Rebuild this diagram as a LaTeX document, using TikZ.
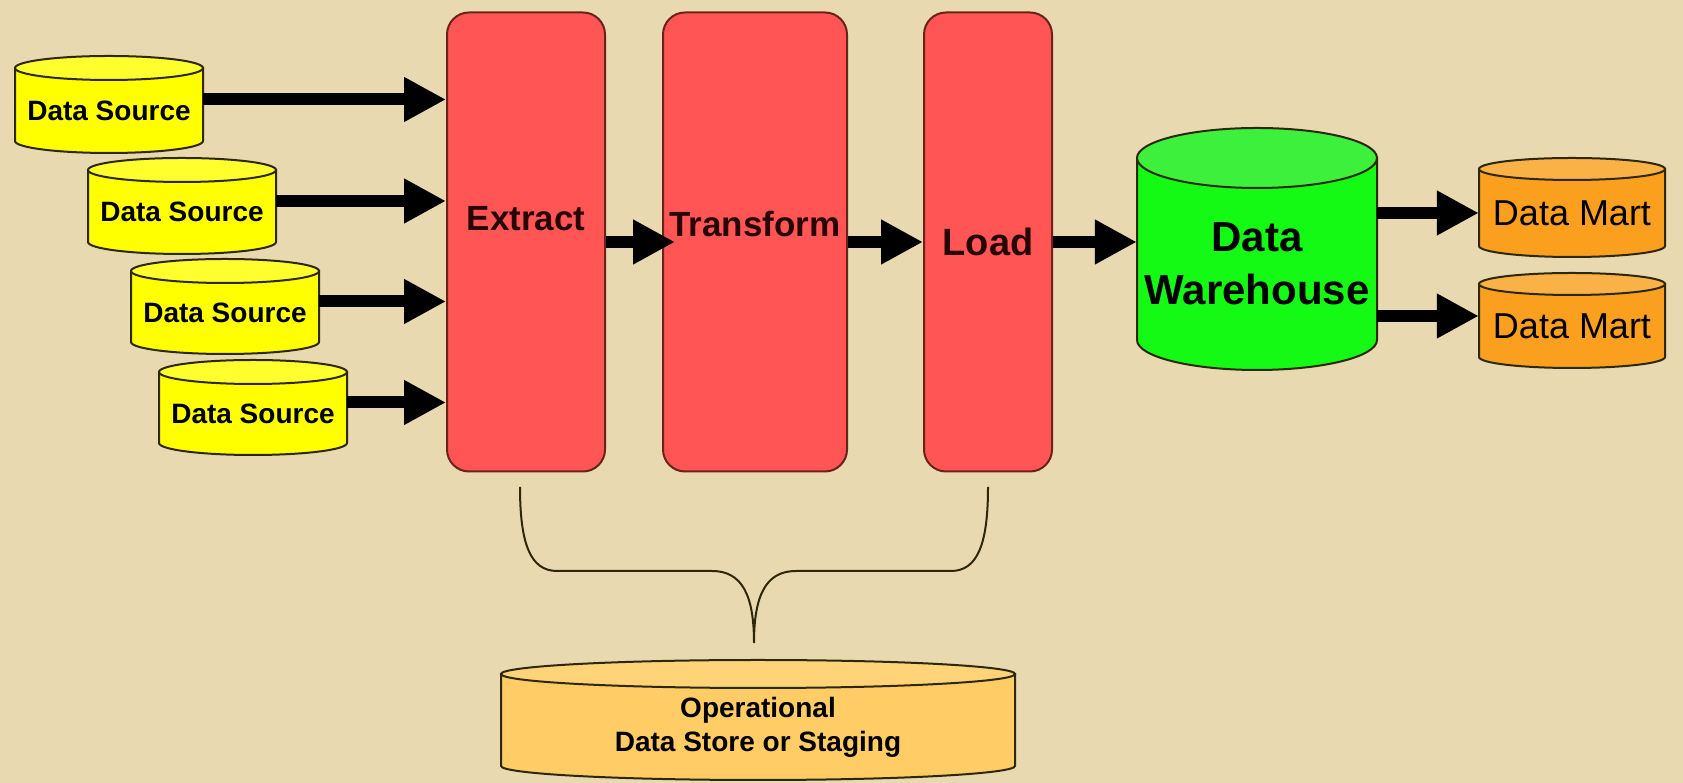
\documentclass[tikz,border=0pt]{standalone}
\usepackage{fontspec}
\setmainfont{Liberation Sans}
\usetikzlibrary{arrows.meta,positioning,calc}

\definecolor{paper}{RGB}{233,217,176}
\definecolor{stagered}{RGB}{255,85,85}
\definecolor{stageline}{RGB}{105,35,25}
\definecolor{stageink}{RGB}{40,5,5}
\definecolor{dbedgec}{RGB}{45,40,10}
\definecolor{srcbody}{RGB}{255,255,0}
\definecolor{srctop}{RGB}{255,255,45}
\definecolor{whbody}{RGB}{20,250,20}
\definecolor{whtop}{RGB}{60,240,60}
\definecolor{martbody}{RGB}{250,160,30}
\definecolor{marttop}{RGB}{250,178,70}
\definecolor{odsbody}{RGB}{255,204,102}
\definecolor{odstop}{RGB}{255,212,120}

\tikzstyle{stage} = [draw=stageline, fill=stagered, line width=2pt, rounded corners=22pt,
    inner sep=0pt, minimum height=459pt]
\tikzstyle{stagetext} = [font=\fontsize{35}{40}\selectfont\bfseries, text=stageink]
\tikzstyle{dbedge} = [draw=dbedgec, line width=2pt]
\tikzstyle{srctext} = [font=\fontsize{28}{34}\selectfont\bfseries, align=center]
\tikzstyle{whtext} = [font=\fontsize{42}{53}\selectfont\bfseries, align=center]
\tikzstyle{marttext} = [font=\fontsize{36}{40}\selectfont, align=center]
\tikzstyle{odstext} = [font=\fontsize{28}{34}\selectfont\bfseries, align=center]
\tikzstyle{bigarrow} = [draw=black, line width=12pt, -{Triangle[length=42pt,width=42pt]}]
\tikzstyle{brace} = [draw=dbedgec, line width=2pt]

% database drum: name, centre x, top y, width, height, cap radius, kind, text
\newcommand{\dbcyl}[8]{%
  \filldraw[dbedge, fill=#7body] (#2-#4/2,#3-#6) -- (#2-#4/2,#3-#5+#6)
    arc[start angle=180, end angle=360, x radius=#4/2, y radius=#6]
    -- (#2+#4/2,#3-#6) -- cycle;
  \filldraw[dbedge, fill=#7top] (#2,#3-#6) ellipse[x radius=#4/2, y radius=#6];
  \node[#7text, minimum width=#4pt, inner sep=0pt] (#1) at (#2,#3-#5/2-#6/2) {#8};
}

\begin{document}
\begin{tikzpicture}[x=1pt, y=1pt]
    \fill[paper] (0,0) rectangle (1683,783);
    \useasboundingbox (0,0) rectangle (1683,783);

    % sources
    \dbcyl{ds1}{109}{727}{188}{97}{12}{src}{Data Source}
    \dbcyl{ds2}{182}{625}{188}{96}{12}{src}{Data Source}
    \dbcyl{ds3}{225}{524}{188}{95}{12}{src}{Data Source}
    \dbcyl{ds4}{253}{423}{188}{95}{12}{src}{Data Source}

    % ETL stages
    \node at (526,541) [stage, minimum width=158pt] (extract) {};
    \node [stage, right=56pt of extract, minimum width=184pt] (transform) {};
    \node [stage, right=75pt of transform, minimum width=128pt] (load) {};
    \node [stagetext] at ($(extract)+(0,23)$) (extract-t) {Extract};
    \node [stagetext] at ($(transform)+(0,18)$) (transform-t) {Transform};
    \node [stagetext, font=\fontsize{38}{40}\selectfont\bfseries] at (load) (load-t) {Load};

    % warehouse and marts
    \dbcyl{wh}{1257}{655}{240}{242}{30}{wh}{Data\\Warehouse}
    \dbcyl{mart1}{1572}{625}{186}{99}{11}{mart}{Data Mart}
    \dbcyl{mart2}{1572}{510}{186}{95}{11}{mart}{Data Mart}

    % staging store
    \dbcyl{ods}{758}{123}{514}{120}{14}{ods}{Operational\\Data Store or Staging}

    \foreach \s in {ds1,ds2,ds3,ds4}
        \draw[bigarrow] (\s.east) ++(0,11) coordinate (a\s) -- (a\s -| extract.west);
    \draw[bigarrow] (extract.east) -- ([xshift=13pt]transform.west);
    \draw[bigarrow] (transform.east) -- (load.west);
    \draw[bigarrow] (load.east) -- (load.east -| wh.west);
    \draw[bigarrow] (wh.east |- mart1.west) -- (mart1.west);
    \path (mart2.west) ++(0,10) coordinate (amart2);
    \draw[bigarrow] (wh.east |- amart2) -- (amart2);

    \draw[brace] (520,296) .. controls (520,240) and (530,212) .. (557,212) -- (712,212)
        .. controls (742,212) and (754,188) .. (754,140)
        .. controls (754,188) and (766,212) .. (796,212) -- (951,212)
        .. controls (978,212) and (988,240) .. (988,296);
\end{tikzpicture}
\end{document}
